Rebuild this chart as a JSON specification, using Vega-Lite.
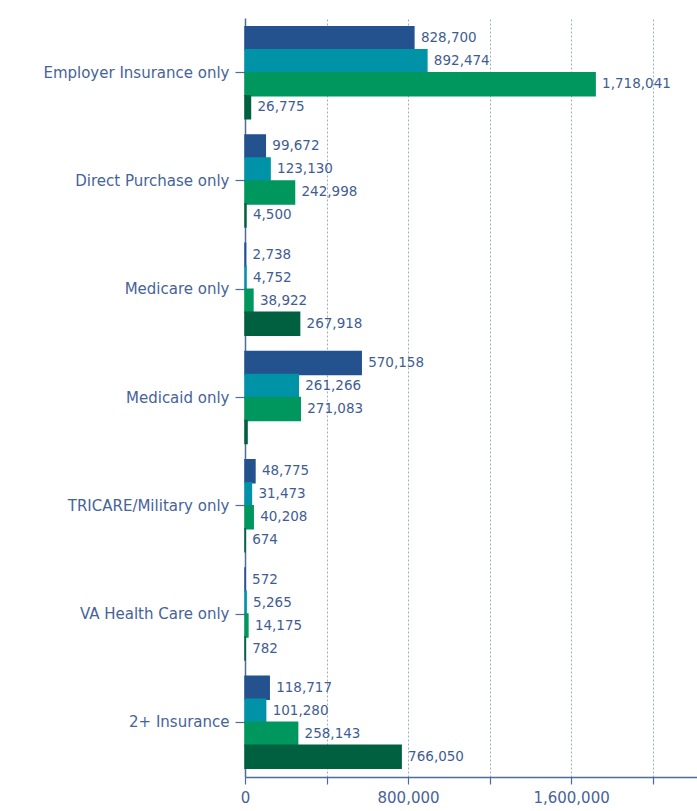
{
  "$schema": "https://vega.github.io/schema/vega-lite/v6.json",
  "width": 452,
  "height": 759,
  "autosize": {"type": "none"},
  "padding": {"left": 245, "top": 18, "right": 0, "bottom": 34},
  "background": "white",
  "config": {
    "view": {"stroke": null},
    "font": "DejaVu Sans"
  },
  "data": {
    "values": [
      {"category": "Employer Insurance only", "series": "A", "value": 828700},
      {"category": "Employer Insurance only", "series": "B", "value": 892474},
      {"category": "Employer Insurance only", "series": "C", "value": 1718041},
      {"category": "Employer Insurance only", "series": "D", "value": 26775},
      {"category": "Direct Purchase only", "series": "A", "value": 99672},
      {"category": "Direct Purchase only", "series": "B", "value": 123130},
      {"category": "Direct Purchase only", "series": "C", "value": 242998},
      {"category": "Direct Purchase only", "series": "D", "value": 4500},
      {"category": "Medicare only", "series": "A", "value": 2738},
      {"category": "Medicare only", "series": "B", "value": 4752},
      {"category": "Medicare only", "series": "C", "value": 38922},
      {"category": "Medicare only", "series": "D", "value": 267918},
      {"category": "Medicaid only", "series": "A", "value": 570158},
      {"category": "Medicaid only", "series": "B", "value": 261266},
      {"category": "Medicaid only", "series": "C", "value": 271083},
      {"category": "Medicaid only", "series": "D", "value": 10000},
      {"category": "TRICARE/Military only", "series": "A", "value": 48775},
      {"category": "TRICARE/Military only", "series": "B", "value": 31473},
      {"category": "TRICARE/Military only", "series": "C", "value": 40208},
      {"category": "TRICARE/Military only", "series": "D", "value": 674},
      {"category": "VA Health Care only", "series": "A", "value": 572},
      {"category": "VA Health Care only", "series": "B", "value": 5265},
      {"category": "VA Health Care only", "series": "C", "value": 14175},
      {"category": "VA Health Care only", "series": "D", "value": 782},
      {"category": "2+ Insurance", "series": "A", "value": 118717},
      {"category": "2+ Insurance", "series": "B", "value": 101280},
      {"category": "2+ Insurance", "series": "C", "value": 258143},
      {"category": "2+ Insurance", "series": "D", "value": 766050}
    ]
  },
  "encoding": {
    "y": {
      "field": "category",
      "type": "nominal",
      "sort": ["Employer Insurance only", "Direct Purchase only", "Medicare only", "Medicaid only", "TRICARE/Military only", "VA Health Care only", "2+ Insurance"],
      "scale": {"paddingInner": 0.15, "paddingOuter": 0.08},
      "axis": {
        "title": null,
        "domainColor": "#4d6c9c",
        "domainWidth": 1.5,
        "tickColor": "#4d6c9c",
        "tickSize": 10,
        "tickWidth": 1.2,
        "labelPadding": 6,
        "labelFontSize": 15,
        "labelLimit": 300,
        "labelColor": "#46639a",
        "grid": false
      }
    },
    "yOffset": {"field": "series", "type": "nominal", "sort": ["A", "B", "C", "D"], "scale": {"paddingInner": 0, "paddingOuter": 0}},
    "x": {
      "field": "value",
      "type": "quantitative",
      "scale": {"domain": [0, 2218000], "nice": false, "zero": true},
      "axis": {
        "title": null,
        "values": [0, 400000, 800000, 1200000, 1600000, 2000000],
        "labelExpr": "datum.value % 800000 == 0 ? format(datum.value, ',') : ''",
        "grid": true,
        "gridColor": "#9aadca",
        "gridDash": [2, 2],
        "gridWidth": 1,
        "domainColor": "#4d6c9c",
        "domainWidth": 1.5,
        "tickColor": "#4d6c9c",
        "tickSize": 7,
        "tickWidth": 1.2,
        "labelPadding": 6,
        "labelFontSize": 15,
        "labelColor": "#46639a",
        "labelFlush": false,
        "labelOverlap": false
      }
    }
  },
  "layer": [
    {
      "mark": {"type": "bar", "strokeWidth": 1.5},
      "encoding": {
        "color": {"field": "series", "type": "nominal", "scale": {"domain": ["A", "B", "C", "D"], "range": ["#23528f", "#0093a7", "#00975e", "#00603f"]}, "legend": null},
        "stroke": {"field": "series", "type": "nominal", "scale": {"domain": ["A", "B", "C", "D"], "range": ["#23528f", "#0093a7", "#00975e", "#00603f"]}, "legend": null}
      }
    },
    {
      "transform": [{"filter": "!(datum.category == 'Medicaid only' && datum.series == 'D')"}],
      "mark": {"type": "text", "align": "left", "baseline": "middle", "dx": 7, "fontSize": 13.5, "fill": "#3f5d92"},
      "encoding": {
        "text": {"field": "value", "type": "quantitative", "format": ","}
      }
    }
  ]
}
